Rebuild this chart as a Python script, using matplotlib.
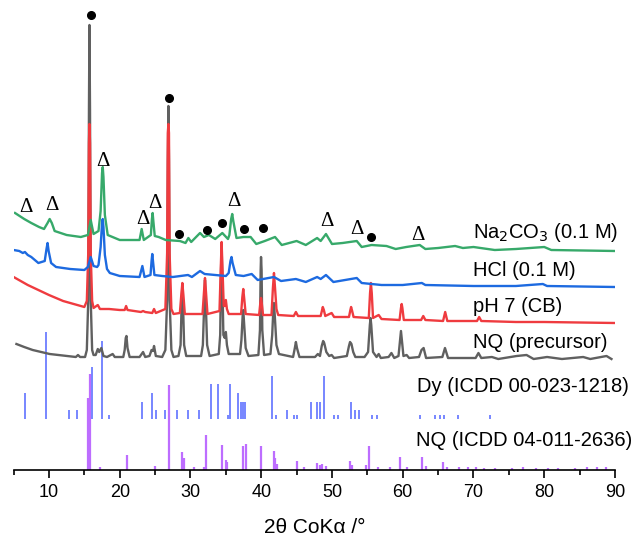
import matplotlib
matplotlib.use("Agg")
import matplotlib.pyplot as plt
from matplotlib.ticker import MultipleLocator

plt.rcParams['font.family'] = ['Liberation Sans', 'DejaVu Sans']

# ---------------- data (2theta, intensity in arbitrary units) ----------------
nq_x = [5.4, 6.5, 7.7, 8.9, 10.1, 11.3, 12.5, 13.8, 14.1, 14.4, 15.1, 15.35, 15.55, 15.65, 15.72, 15.8, 15.9, 16.1, 16.3, 16.6,
        16.9, 17.1, 17.4, 17.7, 18.2, 19.0, 19.3, 20.5, 20.7, 20.85, 20.95, 21.1, 21.4, 22.8, 23.3, 23.6, 24.2, 24.5, 24.7, 24.85,
        25.1, 26.0, 26.45, 26.7, 26.8, 26.88, 26.96, 27.05, 27.3, 27.6, 28.3, 28.6, 28.75, 28.85, 28.95, 29.1, 29.4, 31.5, 31.75, 31.95,
        32.05, 32.15, 32.35, 32.7, 34.0, 34.2, 34.32, 34.4, 34.5, 34.65, 34.85, 35.0, 35.15, 35.4, 37.0, 37.2, 37.38, 37.46, 37.6, 37.8,
        38.2, 39.6, 39.82, 39.92, 39.97, 40.05, 40.15, 40.4, 41.3, 41.55, 41.72, 41.8, 41.95, 42.15, 42.5, 44.5, 44.75, 44.9, 45.05, 45.4,
        47.6, 48.0, 48.3, 48.55, 48.75, 48.9, 49.2, 49.6, 49.95, 50.3, 52.1, 52.4, 52.55, 52.75, 53.0, 53.3, 54.6, 55.1, 55.35, 55.45,
        55.55, 55.8, 56.3, 56.6, 56.9, 58.0, 58.4, 58.8, 59.4, 59.65, 59.75, 59.85, 60.1, 60.55, 60.9, 62.3, 62.65, 62.95, 63.3, 65.6,
        65.97, 66.4, 67.5, 70.3, 70.7, 71.1, 72.6, 73.5, 76.1, 77.5, 78.5, 80.4, 82.5, 85.5, 86.5, 88.8, 89.5]
nq_y = [16, 13, 10, 8, 6, 5, 4, 3, 5, 3, 3, 10, 60, 250, 335, 250, 60, 10, 5, 5,
        11, 8, 12, 4, 3, 6, 3, 3, 10, 22, 24, 12, 3, 3, 8, 3, 4, 10, 9, 14,
        4, 3, 10, 60, 200, 254, 200, 60, 10, 3, 4, 15, 55, 75, 55, 15, 4, 4, 15, 60,
        80, 60, 15, 4, 6, 25, 90, 115, 80, 25, 22, 28, 15, 6, 6, 20, 45, 50, 35, 12,
        4, 5, 30, 90, 103, 90, 30, 5, 6, 25, 52, 57, 40, 15, 6, 3, 12, 18, 12, 3,
        3, 6, 4, 14, 19, 17, 8, 4, 5, 2, 4, 14, 18, 16, 8, 3, 3, 8, 35, 42,
        35, 8, 3, 6, 2, 3, 7, 2, 4, 22, 29, 22, 4, 5, 2, 3, 10, 12, 2, 3,
        12, 2, 2, 2, 7, 2, 3, 1, 4, 5, 1, 3, 1, 3, 1, 4, 1]

ph7_x = [5.0, 6.0, 7.0, 8.5, 10.0, 11.0, 12.0, 13.0, 14.0, 15.0, 15.35, 15.55, 15.65, 15.72, 15.8, 15.9, 16.1, 16.3, 16.9, 17.2,
         18.5, 20.0, 20.7, 20.9, 21.1, 23.0, 23.3, 23.6, 24.6, 24.85, 25.1, 26.45, 26.7, 26.8, 26.88, 26.96, 27.05, 27.3, 27.6, 28.5,
         28.7, 28.85, 29.0, 29.2, 31.7, 31.9, 32.05, 32.2, 32.4, 34.1, 34.28, 34.4, 34.52, 34.7, 34.85, 35.0, 35.15, 35.4, 37.15, 37.33,
         37.46, 37.6, 37.8, 39.7, 39.87, 39.97, 40.07, 40.25, 41.45, 41.65, 41.8, 41.95, 42.15, 42.4, 44.6, 44.9, 45.2, 48.4, 48.6, 48.7,
         48.85, 49.05, 49.95, 50.3, 52.4, 52.6, 52.7, 52.85, 53.05, 55.2, 55.38, 55.5, 55.62, 55.8, 56.6, 57.0, 59.55, 59.75, 59.85, 59.95,
         60.15, 62.6, 62.9, 63.2, 65.7, 66.0, 66.3, 70.5, 70.8, 71.1, 76.0, 80.0, 90.0]
ph7_y = [46, 42, 38, 33, 28, 25, 22, 20, 18, 16, 22, 70, 180, 199, 180, 70, 22, 15, 18, 14,
         14, 13, 13, 17, 13, 11, 12, 11, 10, 14, 10, 14, 70, 190, 199, 190, 70, 14, 9, 10,
         28, 40, 28, 9, 9, 30, 45, 30, 9, 12, 55, 81, 55, 17, 17, 23, 14, 9, 9, 26,
         34, 24, 9, 8, 20, 25, 20, 8, 8, 35, 50, 35, 14, 8, 7, 11, 7, 7, 13, 16,
         13, 7, 10, 6, 6, 13, 16, 12, 6, 5, 30, 40, 30, 5, 8, 4, 3, 15, 19, 15,
         3, 3, 7, 3, 2, 11, 2, 2, 6, 2, 1, 1, 0]

hcl_x = [5.0, 5.8, 6.3, 6.6, 7.0, 7.5, 8.5, 9.4, 9.65, 9.8, 9.95, 10.3, 11.0, 13.0, 15.0, 15.5, 15.9, 16.3, 16.8, 17.0,
         17.3, 17.5, 17.6, 17.7, 17.9, 18.2, 18.6, 20.0, 22.8, 23.2, 23.5, 24.35, 24.5, 24.6, 24.7, 24.9, 26.0, 27.5, 29.65, 30.2,
         31.35, 32.0, 33.5, 35.0, 35.4, 35.65, 35.8, 35.95, 36.4, 37.5, 38.65, 39.5, 41.8, 42.8, 44.9, 46.3, 47.9, 48.4, 49.15, 50.2,
         53.5, 54.2, 57.0, 60.0, 62.7, 63.2, 70.0, 76.0, 79.8, 80.4, 90.0]
hcl_y = [37, 36, 34, 35, 32, 30, 24, 26, 38, 44, 36, 24, 20, 18, 17, 20, 30, 21, 20, 22,
         40, 64, 68, 60, 32, 18, 14, 11, 10, 21, 10, 12, 26, 33, 26, 12, 11, 10, 12, 10,
         16, 13, 12, 11, 14, 26, 30, 24, 12, 11, 13, 7, 10, 6, 8, 5, 10, 8, 12, 5,
         9, 4, 2, 2, 4, 2, 1, 1, 3, 1, 0]

na_x = [5.2, 6.5, 7.5, 8.6, 9.3, 9.8, 10.1, 10.4, 10.8, 12.5, 14.5, 15.5, 15.9, 16.3, 17.0, 17.3, 17.5, 17.6, 17.7, 17.9,
        18.3, 20.0, 22.8, 23.1, 23.4, 24.4, 24.55, 24.65, 24.75, 24.95, 25.5, 26.5, 28.5, 29.3, 29.7, 30.1, 31.35, 31.9, 32.6, 33.5,
        34.5, 35.3, 35.5, 35.75, 35.9, 36.05, 36.5, 37.5, 38.5, 39.3, 40.5, 41.95, 42.9, 45.0, 46.3, 47.9, 48.4, 49.15, 50.0, 51.5,
        53.5, 54.2, 55.6, 57.7, 59.0, 60.5, 62.4, 63.2, 65.0, 67.4, 68.5, 70.0, 73.0, 76.0, 80.0, 81.0, 90.0]
na_y = [38, 32, 28, 24, 22, 28, 32, 28, 20, 16, 14, 16, 31, 17, 20, 40, 78, 84, 74, 36,
        16, 11, 11, 22, 11, 16, 32, 38, 30, 15, 14, 11, 10, 8, 13, 9, 18, 14, 16, 12,
        18, 12, 16, 32, 37, 30, 13, 14, 14, 7, 10, 14, 6, 10, 6, 13, 10, 17, 7, 8,
        10, 4, 6, 5, 2, 4, 6, 2, 3, 5, 3, 4, 1, 2, 4, 1, 0]

# Reference patterns (stick positions / relative heights)
dy_pos = [6.56, 9.58, 12.87, 13.9, 16.12, 17.5, 18.5, 23.14, 24.56, 25.12, 26.44, 28.14, 29.65, 31.16, 32.9, 33.93, 35.26,
          35.58, 36.71, 37.09, 37.37, 37.7, 41.52, 42.04, 43.64, 44.58, 45.1, 47.0, 47.93, 48.3, 48.87, 50.28, 50.9, 52.64,
          53.2, 53.77, 55.6, 56.4, 62.5, 64.56, 65.27, 65.88, 67.77, 72.37]
dy_int = [26, 87, 9, 9, 52, 78, 4, 17, 26, 9, 9, 9, 9, 9, 35, 35, 4,
          35, 26, 17, 17, 17, 43, 4, 9, 4, 4, 17, 17, 17, 43, 4, 4, 17,
          9, 9, 4, 4, 4, 4, 4, 4, 4, 4]

nqref_pos = [15.5, 15.74, 17.2, 21.08, 25.0, 26.93, 28.8, 29.1, 30.5, 31.9, 32.2, 34.4, 35.0, 35.2, 37.4, 37.8, 39.9, 41.76,
             42.0, 42.2, 45.1, 46.0, 47.95, 48.3, 48.6, 49.2, 52.5, 52.8, 54.8, 55.3, 56.5, 58.2, 59.6, 60.6, 62.7, 63.3,
             65.7, 66.3, 68.0, 69.2, 70.3, 71.5, 73.0, 75.5, 77.0, 78.8, 80.5, 82.0, 84.3, 86.0, 87.5, 88.7]
nqref_int = [72, 96, 3, 15, 4, 85, 18, 12, 3, 3, 35, 25, 10, 8, 24, 26, 24, 19,
             12, 6, 9, 3, 7, 5, 6, 4, 9, 5, 5, 24, 3, 3, 13, 3, 13, 4,
             8, 3, 3, 3, 3, 2, 2, 2, 3, 2, 2, 2, 2, 3, 3, 3]

# phase markers (2theta of marked reflections)
delta_x = [6.75, 10.38, 17.59, 23.24, 24.98, 36.19, 49.25, 53.5, 62.1]
dot_x = [15.94, 27.0, 28.37, 32.37, 34.5, 37.6, 40.29, 55.51]

labels = ['Na$_2$CO$_3$ (0.1 M)', 'HCl (0.1 M)', 'pH 7 (CB)', 'NQ (precursor)',
          'Dy (ICDD 00-023-1218)', 'NQ (ICDD 04-011-2636)']

# ---------------- layout / style ----------------
c_gray, c_red, c_blue, c_green = '#606060', '#ef3b3f', '#1d6ae0', '#37a96a'
c_dy, c_nq = '#6c7dff', '#bd6dff'
off_gray, off_red, off_blue, off_green, off_dy = 110, 147, 183, 219, 51

fig = plt.figure(figsize=(6.36, 5.48), dpi=100)
ax = fig.add_axes([13.6 / 636, 78 / 548, (615 - 13.6) / 636, 470 / 548])
ax.set_xlim(5, 90)
ax.set_ylim(0, 470)

ax.vlines(nqref_pos, 0, nqref_int, color=c_nq, lw=1.6)
ax.vlines(dy_pos, off_dy, [off_dy + v for v in dy_int], color=c_dy, lw=1.3)

lw = 1.7
ax.plot(nq_x, [off_gray + v for v in nq_y], color=c_gray, lw=lw, solid_joinstyle='round')
ax.plot(ph7_x, [off_red + v for v in ph7_y], color=c_red, lw=lw, solid_joinstyle='round')
ax.plot(hcl_x, [off_blue + v for v in hcl_y], color=c_blue, lw=lw, solid_joinstyle='round')
ax.plot(na_x, [off_green + v for v in na_y], color=c_green, lw=lw, solid_joinstyle='round')

# markers
delta_h = [262, 264, 308, 250, 267, 268, 248, 240, 235]
dot_h = [455, 372, 236, 240, 247, 241, 242, 233]
for x, h in zip(delta_x, delta_h):
    ax.text(x, h, 'Δ', ha='center', va='center', fontsize=15, family='Liberation Serif')
ax.plot(dot_x, dot_h, 'o', color='black', ms=5.5, clip_on=False)

# labels
lab_x = [70, 70, 70, 70, 62.0, 61.9]
lab_y = [238, 200, 163, 127, 84, 30]
for s, x, y in zip(labels, lab_x, lab_y):
    ax.text(x, y, s, ha='left', va='center', fontsize=14.5)

for s in ['top', 'right', 'left']:
    ax.spines[s].set_visible(False)
ax.spines['bottom'].set_linewidth(1.2)
ax.set_yticks([])
ax.xaxis.set_major_locator(MultipleLocator(10))
ax.xaxis.set_minor_locator(MultipleLocator(5))
ax.tick_params(axis='x', which='major', direction='out', length=6, width=1.2, labelsize=13, pad=4)
ax.tick_params(axis='x', which='minor', direction='out', length=3.5, width=1.2)
ax.set_xlabel('2θ CoKα /°', fontsize=15, labelpad=12)

fig.savefig('out.png', dpi=100)
